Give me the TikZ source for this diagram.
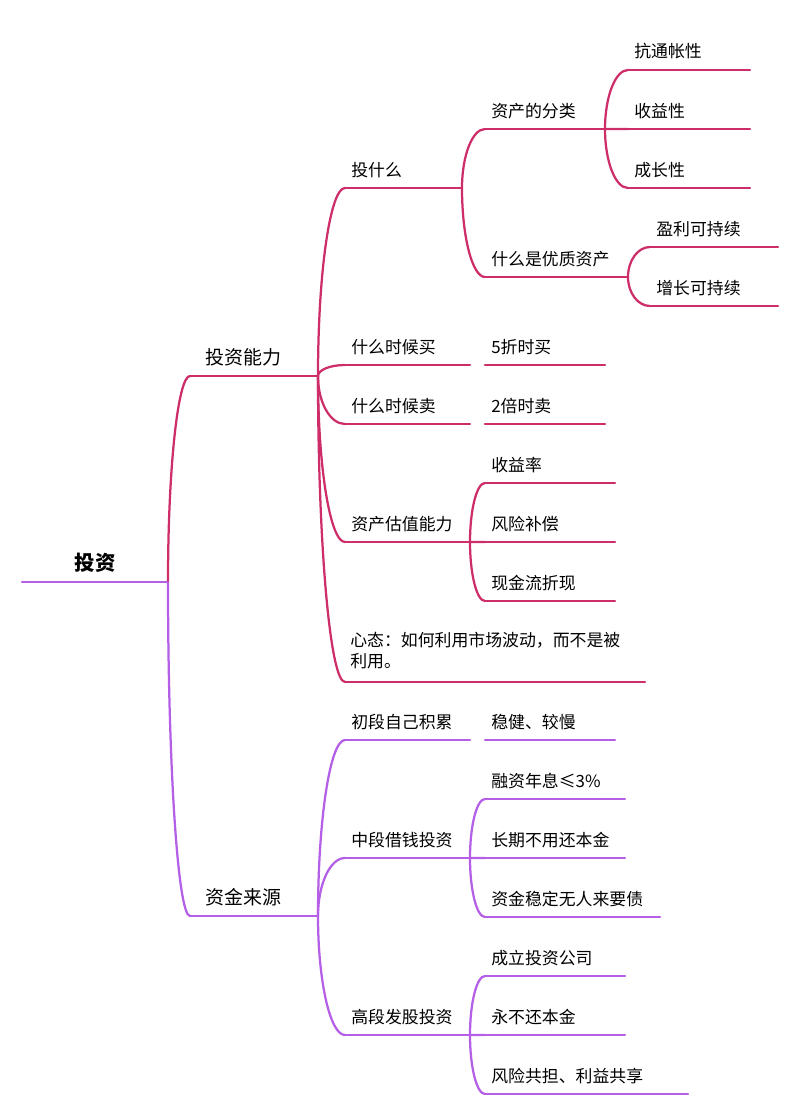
\documentclass[tikz,border=0pt]{standalone}
\usepackage{fontspec}
\setmainfont{Noto Sans CJK SC}
\usetikzlibrary{calc,positioning}
\definecolor{rose}{RGB}{205,45,105}
\definecolor{lilac}{RGB}{180,95,230}
\tikzset{
  line/.style={line width=1.6pt,line cap=round},
  label/.style={anchor=base west,inner sep=0pt,font=\fontsize{12}{15}\selectfont},
  big/.style={font=\fontsize{13.5}{16}\selectfont},
}
% topic: name, x start, x end, y of underline, colour, text
\newcommand\topic[6]{%
  \coordinate (#1-s) at (#2,#4);
  \coordinate (#1-e) at (#3,#4);
  \draw[line,#5] (#1-s) -- (#1-e);
  \node[label] (#1) at ($(#1-s)+(6,-12)$) {#6};}
\newcommand\link[3]{%
  \draw[line,#3] (#1-e) .. controls ($(#1-e)!0.55!(#1-e|-#2-s)$) and ($(#2-s)!0.55!(#1-e|-#2-s)$) .. (#2-s);}
\begin{document}
\begin{tikzpicture}[x=0.025cm,y=-0.025cm]
\useasboundingbox (0,0) rectangle (800,1117);
% root
\coordinate (root-s) at (22,582);
\coordinate (root-e) at (168,582);
\draw[line,lilac] (root-s) -- (root-e);
\node[font=\fontsize{14.5}{16}\selectfont\bfseries] (root) at (95,563) {投资};
% ability
\topic{abl}{190}{318}{376}{rose}{}
\node[label,big] (ablt) at (205,364) {投资能力};
\topic{what}{345}{462}{188}{rose}{投什么}
\topic{cls}{485}{605}{129}{rose}{资产的分类}
\topic{inf}{628}{750}{70}{rose}{抗通帐性}
\topic{ret}{628}{750}{129}{rose}{收益性}
\topic{grw}{628}{750}{188}{rose}{成长性}
\topic{qual}{485}{628}{277}{rose}{什么是优质资产}
\topic{prof}{650}{778}{247}{rose}{盈利可持续}
\topic{grow}{650}{778}{306}{rose}{增长可持续}
\topic{buy}{345}{470}{365}{rose}{什么时候买}
\topic{half}{485}{605}{365}{rose}{5折时买}
\topic{sell}{345}{470}{424}{rose}{什么时候卖}
\topic{dbl}{485}{605}{424}{rose}{2倍时卖}
\topic{val}{345}{470}{542}{rose}{资产估值能力}
\topic{yld}{485}{615}{483}{rose}{收益率}
\topic{risk}{485}{615}{542}{rose}{风险补偿}
\topic{dcf}{485}{615}{601}{rose}{现金流折现}
\topic{mind}{345}{645}{682}{rose}{}
\node[label,align=left,anchor=north west,text width=8cm,font=\fontsize{12}{15}\selectfont] (mindt) at (350,632) {心态：如何利用市场波动，而不是被\\利用。};
% funding
\topic{fund}{190}{318}{916}{lilac}{}
\node[label,big] (fundt) at (205,904) {资金来源};
\topic{early}{345}{470}{740}{lilac}{初段自己积累}
\topic{slow}{485}{615}{740}{lilac}{稳健、较慢}
\topic{mid}{345}{470}{858}{lilac}{中段借钱投资}
\topic{rate}{485}{625}{799}{lilac}{融资年息≤3\%}
\topic{long}{485}{625}{858}{lilac}{长期不用还本金}
\topic{stab}{485}{660}{917}{lilac}{资金稳定无人来要债}
\topic{high}{345}{470}{1035}{lilac}{高段发股投资}
\topic{firm}{485}{625}{976}{lilac}{成立投资公司}
\topic{never}{485}{625}{1035}{lilac}{永不还本金}
\topic{share}{485}{688}{1094}{lilac}{风险共担、利益共享}
% connectors
\link{root}{abl}{rose}
\link{root}{fund}{lilac}
\foreach \c in {what,buy,sell,val,mind} {\link{abl}{\c}{rose}}
\foreach \c in {cls,qual} {\link{what}{\c}{rose}}
\foreach \c in {inf,ret,grw} {\link{cls}{\c}{rose}}
\foreach \c in {prof,grow} {\link{qual}{\c}{rose}}
\foreach \c in {yld,risk,dcf} {\link{val}{\c}{rose}}
\foreach \c in {early,mid,high} {\link{fund}{\c}{lilac}}
\foreach \c in {rate,long,stab} {\link{mid}{\c}{lilac}}
\foreach \c in {firm,never,share} {\link{high}{\c}{lilac}}
\end{tikzpicture}
\end{document}
